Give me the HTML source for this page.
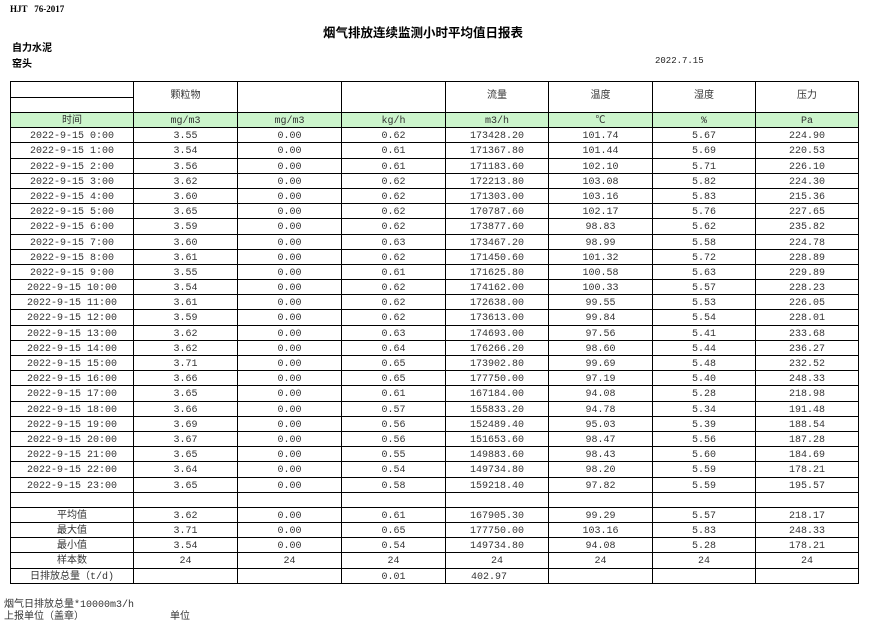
<!DOCTYPE html>
<html><head><meta charset="utf-8"><style>
body{margin:0;width:871px;height:626px;background:#fff;position:relative;overflow:hidden;font-family:"Liberation Mono","Noto Sans CJK SC",monospace;color:#222}
.t{position:absolute;white-space:nowrap}
table{position:absolute;left:10px;top:81px;border-collapse:collapse;table-layout:fixed;font-size:10px}
td{border:1px solid #000;height:11.2px;padding:3px 0 0 0;text-align:center;line-height:11px;color:#333;overflow:hidden;white-space:nowrap;vertical-align:top}
tr.g td{background:#ccf5cc}
td.h{vertical-align:middle;padding:0;height:14.5px;line-height:14px}
</style></head><body>
<div class="t" style="left:10px;top:4px;font-size:9px;font-weight:bold;font-family:'Liberation Serif','Noto Serif CJK SC',serif;color:#000">HJT&nbsp;&nbsp;&nbsp;76-2017</div>
<div class="t" style="left:323px;top:22px;font-size:12.5px;font-weight:bold;font-family:'Liberation Sans','Noto Sans CJK SC',sans-serif;color:#000">烟气排放连续监测小时平均值日报表</div>
<div class="t" style="left:12px;top:39px;font-size:10px;font-weight:bold;font-family:'Liberation Sans','Noto Sans CJK SC',sans-serif;color:#000">自力水泥</div>
<div class="t" style="left:12px;top:55px;font-size:10px;font-weight:bold;font-family:'Liberation Sans','Noto Sans CJK SC',sans-serif;color:#000">窑头</div>
<div class="t" style="left:655px;top:56px;font-size:9px">2022.7.15</div>
<table>
<colgroup><col style="width:123px"><col style="width:104px"><col style="width:104px"><col style="width:104px"><col style="width:103px"><col style="width:104px"><col style="width:103px"><col style="width:103px"></colgroup>
<tr><td class="h"></td><td class="h" rowspan="2">颗粒物</td><td class="h" rowspan="2"></td><td class="h" rowspan="2"></td><td class="h" rowspan="2">流量</td><td class="h" rowspan="2">温度</td><td class="h" rowspan="2">湿度</td><td class="h" rowspan="2">压力</td></tr>
<tr><td class="h"></td></tr>
<tr class="g"><td>时间</td><td>mg/m3</td><td>mg/m3</td><td>kg/h</td><td>m3/h</td><td>℃</td><td>%</td><td>Pa</td></tr>
<tr><td>2022-9-15 0:00</td><td>3.55</td><td>0.00</td><td>0.62</td><td>173428.20</td><td>101.74</td><td>5.67</td><td>224.90</td></tr>
<tr><td>2022-9-15 1:00</td><td>3.54</td><td>0.00</td><td>0.61</td><td>171367.80</td><td>101.44</td><td>5.69</td><td>220.53</td></tr>
<tr><td>2022-9-15 2:00</td><td>3.56</td><td>0.00</td><td>0.61</td><td>171183.60</td><td>102.10</td><td>5.71</td><td>226.10</td></tr>
<tr><td>2022-9-15 3:00</td><td>3.62</td><td>0.00</td><td>0.62</td><td>172213.80</td><td>103.08</td><td>5.82</td><td>224.30</td></tr>
<tr><td>2022-9-15 4:00</td><td>3.60</td><td>0.00</td><td>0.62</td><td>171303.00</td><td>103.16</td><td>5.83</td><td>215.36</td></tr>
<tr><td>2022-9-15 5:00</td><td>3.65</td><td>0.00</td><td>0.62</td><td>170787.60</td><td>102.17</td><td>5.76</td><td>227.65</td></tr>
<tr><td>2022-9-15 6:00</td><td>3.59</td><td>0.00</td><td>0.62</td><td>173877.60</td><td>98.83</td><td>5.62</td><td>235.82</td></tr>
<tr><td>2022-9-15 7:00</td><td>3.60</td><td>0.00</td><td>0.63</td><td>173467.20</td><td>98.99</td><td>5.58</td><td>224.78</td></tr>
<tr><td>2022-9-15 8:00</td><td>3.61</td><td>0.00</td><td>0.62</td><td>171450.60</td><td>101.32</td><td>5.72</td><td>228.89</td></tr>
<tr><td>2022-9-15 9:00</td><td>3.55</td><td>0.00</td><td>0.61</td><td>171625.80</td><td>100.58</td><td>5.63</td><td>229.89</td></tr>
<tr><td>2022-9-15 10:00</td><td>3.54</td><td>0.00</td><td>0.62</td><td>174162.00</td><td>100.33</td><td>5.57</td><td>228.23</td></tr>
<tr><td>2022-9-15 11:00</td><td>3.61</td><td>0.00</td><td>0.62</td><td>172638.00</td><td>99.55</td><td>5.53</td><td>226.05</td></tr>
<tr><td>2022-9-15 12:00</td><td>3.59</td><td>0.00</td><td>0.62</td><td>173613.00</td><td>99.84</td><td>5.54</td><td>228.01</td></tr>
<tr><td>2022-9-15 13:00</td><td>3.62</td><td>0.00</td><td>0.63</td><td>174693.00</td><td>97.56</td><td>5.41</td><td>233.68</td></tr>
<tr><td>2022-9-15 14:00</td><td>3.62</td><td>0.00</td><td>0.64</td><td>176266.20</td><td>98.60</td><td>5.44</td><td>236.27</td></tr>
<tr><td>2022-9-15 15:00</td><td>3.71</td><td>0.00</td><td>0.65</td><td>173902.80</td><td>99.69</td><td>5.48</td><td>232.52</td></tr>
<tr><td>2022-9-15 16:00</td><td>3.66</td><td>0.00</td><td>0.65</td><td>177750.00</td><td>97.19</td><td>5.40</td><td>248.33</td></tr>
<tr><td>2022-9-15 17:00</td><td>3.65</td><td>0.00</td><td>0.61</td><td>167184.00</td><td>94.08</td><td>5.28</td><td>218.98</td></tr>
<tr><td>2022-9-15 18:00</td><td>3.66</td><td>0.00</td><td>0.57</td><td>155833.20</td><td>94.78</td><td>5.34</td><td>191.48</td></tr>
<tr><td>2022-9-15 19:00</td><td>3.69</td><td>0.00</td><td>0.56</td><td>152489.40</td><td>95.03</td><td>5.39</td><td>188.54</td></tr>
<tr><td>2022-9-15 20:00</td><td>3.67</td><td>0.00</td><td>0.56</td><td>151653.60</td><td>98.47</td><td>5.56</td><td>187.28</td></tr>
<tr><td>2022-9-15 21:00</td><td>3.65</td><td>0.00</td><td>0.55</td><td>149883.60</td><td>98.43</td><td>5.60</td><td>184.69</td></tr>
<tr><td>2022-9-15 22:00</td><td>3.64</td><td>0.00</td><td>0.54</td><td>149734.80</td><td>98.20</td><td>5.59</td><td>178.21</td></tr>
<tr><td>2022-9-15 23:00</td><td>3.65</td><td>0.00</td><td>0.58</td><td>159218.40</td><td>97.82</td><td>5.59</td><td>195.57</td></tr>
<tr><td></td><td></td><td></td><td></td><td></td><td></td><td></td><td></td></tr>
<tr><td>平均值</td><td>3.62</td><td>0.00</td><td>0.61</td><td>167905.30</td><td>99.29</td><td>5.57</td><td>218.17</td></tr>
<tr><td>最大值</td><td>3.71</td><td>0.00</td><td>0.65</td><td>177750.00</td><td>103.16</td><td>5.83</td><td>248.33</td></tr>
<tr><td>最小值</td><td>3.54</td><td>0.00</td><td>0.54</td><td>149734.80</td><td>94.08</td><td>5.28</td><td>178.21</td></tr>
<tr><td>样本数</td><td>24</td><td>24</td><td>24</td><td>24</td><td>24</td><td>24</td><td>24</td></tr>
<tr><td>日排放总量（t/d)</td><td></td><td></td><td>0.01</td><td style="text-align:left;padding-left:25px">402.97</td><td></td><td></td><td></td></tr>
</table>
<div class="t" style="left:4px;top:595px;font-size:10px;color:#333">烟气日排放总量*10000m3/h</div>
<div class="t" style="left:4px;top:607px;font-size:10px;color:#333">上报单位（盖章）</div>
<div class="t" style="left:170px;top:607px;font-size:10px;color:#333">单位</div>
</body></html>
